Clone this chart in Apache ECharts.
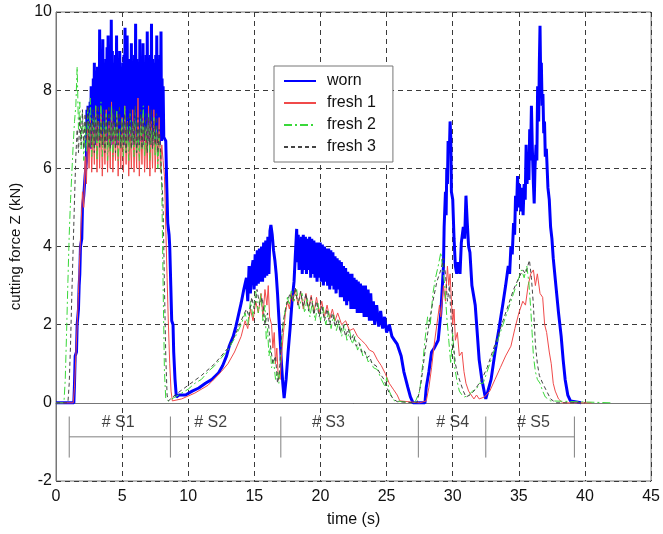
<!DOCTYPE html>
<html><head><meta charset="utf-8">
<script src="https://cdn.jsdelivr.net/npm/echarts@6/dist/echarts.min.js"></script>
<style>html,body{margin:0;padding:0;background:#fff}#c{width:663px;height:534px}</style>
</head><body><div id="c"></div>
<script>
// ---- data (time s, force kN) ----
var seriesNames = ['worn', 'fresh 1', 'fresh 2', 'fresh 3'];
var xTicks = [0, 5, 10, 15, 20, 25, 30, 35, 40, 45];
var yTicks = [-2, 0, 2, 4, 6, 8, 10];

var worn = [
[0,0],[1.35,0],[1.4,0.5],[1.45,1.2],[1.55,1.3],[1.6,2.0],[1.7,2.4],[1.75,3.0],[1.8,3.3],[1.85,4.0],[1.95,4.2],[2.0,5.0],[2.1,5.3],[2.2,5.8],
[2.30,6.2],[2.34,7.5],[2.38,6.4],[2.42,7.6],[2.46,6.5],[2.50,7.4],[2.54,6.6],[2.58,7.7],[2.62,6.5],[2.66,8.1],[2.70,6.7],[2.74,7.9],[2.78,6.6],[2.82,8.3],[2.86,6.8],[2.90,8.7],[2.94,6.6],[2.98,8.4],
[3.02,6.9],[3.06,8.5],[3.10,6.7],[3.14,8.6],[3.18,6.8],[3.22,8.4],[3.26,6.9],[3.30,9.55],[3.34,6.7],[3.38,8.9],[3.42,6.8],[3.46,8.6],[3.50,7.0],[3.54,9.3],[3.58,6.6],[3.62,8.7],[3.66,6.9],[3.70,8.5],[3.74,6.7],[3.78,8.8],[3.82,7.0],[3.86,9.1],[3.90,6.8],[3.94,9.4],[3.98,6.6],
[4.02,8.7],[4.06,6.9],[4.10,8.9],[4.14,6.7],[4.18,9.8],[4.22,6.9],[4.26,9.0],[4.30,6.6],[4.34,8.7],[4.38,7.0],[4.42,8.6],[4.46,6.7],[4.50,8.9],[4.54,6.8],[4.58,9.4],[4.62,6.6],[4.66,8.8],[4.70,6.9],[4.74,8.5],[4.78,6.7],[4.82,9.0],[4.86,6.9],[4.90,8.6],[4.94,6.6],[4.98,8.4],
[5.02,6.8],[5.06,8.7],[5.10,6.7],[5.14,8.9],[5.18,6.9],[5.22,9.6],[5.26,6.6],[5.30,8.8],[5.34,6.9],[5.38,9.4],[5.42,6.7],[5.46,8.6],[5.50,6.9],[5.54,8.8],[5.58,6.6],[5.62,8.5],[5.66,6.8],[5.70,9.2],[5.74,6.7],[5.78,8.7],[5.82,6.9],[5.86,8.6],[5.90,6.6],[5.94,8.9],[5.98,6.9],
[6.02,9.7],[6.06,6.7],[6.10,8.8],[6.14,6.8],[6.18,8.5],[6.22,6.6],[6.26,8.7],[6.30,6.9],[6.34,9.3],[6.38,6.7],[6.42,8.6],[6.46,6.8],[6.50,8.8],[6.54,6.6],[6.58,9.2],[6.62,6.9],[6.66,8.7],[6.70,6.7],[6.74,8.5],[6.78,6.8],[6.82,8.9],[6.86,6.6],[6.90,9.5],[6.94,6.9],[6.98,8.7],
[7.02,6.7],[7.06,8.6],[7.10,6.8],[7.14,8.9],[7.18,6.6],[7.22,9.7],[7.26,6.9],[7.30,8.8],[7.34,6.7],[7.38,8.6],[7.42,6.8],[7.46,8.7],[7.50,6.6],[7.54,8.9],[7.58,6.9],[7.62,9.4],[7.66,6.7],[7.70,8.6],[7.74,6.8],[7.78,8.8],[7.82,6.6],[7.86,8.9],[7.90,6.9],[7.94,9.5],[7.98,6.7],
[8.02,8.3],[8.06,6.8],[8.10,8.1],[8.15,6.8],[8.3,6.7],[8.38,5.5],[8.45,4.6],[8.55,4.3],[8.6,4.0],[8.68,3.0],[8.75,2.1],[8.85,2.0],[8.9,1.3],[9.0,0.6],[9.1,0.15],
[9.3,0.2],[9.8,0.2],[10.3,0.3],[10.8,0.38],[11.3,0.5],[11.8,0.6],[12.3,0.77],[12.6,0.95],[12.9,1.2],[13.1,1.45],[13.4,1.7],[13.6,1.95],[13.8,2.25],[14.0,2.55],[14.2,2.9],[14.4,3.2],[14.5,2.6],[14.6,3.5],[14.7,2.8],[14.8,3.4],[14.9,3.65],[14.98,2.9],[15.06,3.8],[15.14,3.0],[15.22,3.9],[15.3,3.05],[15.38,3.95],[15.46,3.1],[15.54,4.0],[15.62,3.1],[15.7,4.1],[15.78,3.2],[15.86,4.15],[15.94,3.25],[16.02,4.25],[16.1,3.3],[16.18,4.4],[16.25,4.55],[16.35,4.3],[16.45,3.9],[16.55,3.65],[16.65,3.3],[16.75,2.8],[16.85,2.2],[16.95,1.6],[17.05,1.0],[17.15,0.5],[17.25,0.12],
[17.4,0.6],[17.55,1.3],[17.7,1.9],[17.85,2.6],[18.0,3.1],[18.1,3.8],[18.2,4.45],[18.26,3.6],[18.32,4.3],[18.38,3.4],[18.44,4.2],[18.5,3.5],[18.56,4.25],[18.62,3.3],[18.7,4.3],[18.78,3.4],[18.86,4.25],[18.94,3.3],[19.02,4.2],[19.1,3.4],[19.18,4.25],[19.26,3.2],[19.34,4.2],[19.42,3.3],[19.5,4.15],[19.58,3.2],[19.66,4.1],[19.74,3.1],[19.82,4.1],[19.9,3.2],[19.98,4.1],[20.06,3.1],[20.14,4.05],[20.22,3.0],[20.3,4.0],[20.38,3.1],[20.46,3.95],[20.54,3.0],[20.62,3.95],[20.7,2.9],[20.78,3.9],[20.86,3.0],[20.94,3.85],[21.02,2.9],[21.1,3.75],[21.18,2.8],[21.26,3.7],[21.34,2.9],[21.42,3.65],[21.5,2.7],[21.58,3.6],[21.66,2.7],[21.74,3.5],[21.82,2.6],[21.9,3.45],[21.98,2.5],[22.06,3.35],[22.14,2.6],[22.22,3.3],[22.3,2.4],[22.38,3.3],[22.46,2.4],[22.54,3.2],[22.62,2.4],[22.7,3.15],[22.78,2.3],[22.86,3.1],[22.94,2.3],[23.02,3.05],[23.1,2.3],[23.2,3.0],[23.3,2.2],[23.4,3.0],[23.5,2.2],[23.6,2.9],[23.7,2.1],[23.8,2.8],[23.9,2.1],[24.0,2.6],[24.1,2.0],[24.25,2.5],[24.4,1.95],[24.55,2.35],[24.7,1.9],[24.85,2.2],[25.0,1.8],[25.2,2.0],[25.4,1.7],[25.6,1.6],[25.8,1.5],[26.1,1.2],[26.3,0.8],[26.6,0.4],[26.8,0.15],[27.0,0],
[27.9,0],[28.0,0.4],[28.2,0.8],[28.4,1.3],[28.6,1.4],[28.9,1.6],[29.1,2.3],[29.3,3.5],[29.35,4.5],[29.45,5.4],[29.5,4.8],[29.55,6.0],[29.6,5.6],[29.65,6.7],[29.75,6.5],[29.8,7.2],[29.85,6.8],[29.9,5.4],[30.0,5.2],[30.1,4.2],[30.2,3.5],[30.3,3.3],[30.4,3.6],[30.55,3.3],[30.65,4.1],[30.8,4.5],[30.9,4.2],[31.0,5.3],[31.1,4.6],[31.2,4.0],[31.3,3.85],[31.45,3.0],[31.6,2.7],[31.7,2.5],[31.85,1.8],[32.0,1.1],[32.2,0.6],[32.4,0.25],[32.5,0.1],
[32.6,0.15],[32.9,0.6],[33.2,1.3],[33.5,1.9],[33.8,2.55],[34.0,3.0],[34.2,3.5],[34.3,3.3],[34.4,4.0],[34.5,3.8],[34.6,4.6],[34.68,4.3],[34.75,5.3],[34.82,4.9],[34.9,5.8],[34.98,5.0],[35.05,5.6],[35.15,4.9],[35.25,5.5],[35.32,4.8],[35.4,5.6],[35.48,5.2],[35.55,6.6],[35.62,5.6],[35.7,6.4],[35.76,5.7],[35.82,7.0],[35.88,6.2],[35.95,7.6],[36.02,6.5],[36.1,5.6],[36.16,5.1],[36.22,6.0],[36.3,6.6],[36.36,6.2],[36.42,8.1],[36.5,7.2],[36.55,8.7],[36.6,9.65],[36.65,8.3],[36.7,8.7],[36.76,7.6],[36.82,7.9],[36.88,6.9],[36.94,7.2],[37.0,6.3],[37.08,6.5],[37.2,5.5],[37.3,5.2],[37.4,4.5],[37.5,4.2],[37.6,3.7],[37.8,3.0],[38.0,2.3],[38.2,1.7],[38.35,1.1],[38.5,0.6],[38.7,0.2],[38.9,0.05],[39.7,0]
];

var fresh1 = [
[0,0],[1.3,0],[1.4,0.4],[1.5,1.2],[1.6,2.0],[1.7,2.8],[1.8,3.8],[1.9,4.6],[2.0,5.4],[2.1,5.0],
[2.2,6.3],[2.3,5.6],[2.4,7.0],[2.5,6.0],[2.6,7.3],[2.7,5.9],[2.8,7.1],[2.9,6.1],[3.0,7.6],[3.1,5.9],[3.2,7.2],[3.3,6.0],[3.4,7.4],[3.5,5.8],[3.6,7.0],[3.7,6.1],[3.8,7.5],[3.9,5.9],[4.0,7.2],[4.1,6.0],[4.2,7.7],[4.3,5.9],[4.4,7.1],[4.5,6.2],[4.6,7.4],[4.7,5.8],[4.8,7.0],[4.9,6.0],[5.0,7.3],[5.1,5.9],[5.2,7.6],[5.3,6.1],[5.4,7.2],[5.5,5.8],[5.6,7.0],[5.7,6.0],[5.8,7.5],[5.9,5.9],[6.0,7.1],[6.1,6.0],[6.2,7.8],[6.3,5.8],[6.4,7.2],[6.5,6.1],[6.6,7.4],[6.7,5.9],[6.8,7.0],[6.9,6.0],[7.0,7.6],[7.1,5.8],[7.2,7.2],[7.3,6.0],[7.4,7.5],[7.5,5.9],[7.6,7.0],[7.7,6.1],[7.8,7.3],[7.9,5.9],[8.0,6.6],[8.1,6.2],
[8.2,5.8],[8.3,4.5],[8.4,3.2],[8.5,2.0],[8.6,1.0],[8.7,0.3],[8.8,0.05],
[9.5,0.1],[10.5,0.25],[11.5,0.45],[12.5,0.8],[13.0,1.0],[13.5,1.3],[14.0,1.7],[14.3,2.1],[14.5,1.9],[14.7,2.4],[14.9,2.1],[15.1,2.6],[15.3,2.3],[15.5,2.8],[15.65,2.2],[15.8,2.9],[15.95,2.5],[16.05,3.0],[16.15,2.2],[16.3,2.0],[16.4,1.4],[16.5,1.8],[16.6,1.0],[16.7,1.4],[16.8,0.7],[16.95,0.6],[17.05,1.2],[17.2,1.8],[17.35,2.3],[17.5,2.6],[17.65,2.4],[17.8,2.8],
[17.9,2.6],[18.1,2.9],[18.3,2.5],[18.5,2.85],[18.7,2.4],[18.9,2.8],[19.1,2.4],[19.3,2.75],[19.5,2.3],[19.7,2.7],[19.9,2.3],[20.1,2.6],[20.3,2.2],[20.5,2.5],[20.7,2.15],[20.9,2.4],[21.1,2.1],[21.3,2.3],[21.6,2.0],[21.9,2.1],[22.2,1.85],[22.5,1.9],[22.8,1.7],[23.1,1.6],[23.4,1.5],[23.7,1.35],[24.0,1.3],[24.3,1.1],[24.6,0.95],[24.9,0.75],[25.2,0.5],[25.5,0.35],[25.8,0.2],[26.0,0.05],[27.5,0],
[28.0,0.05],[28.2,0.4],[28.4,0.9],[28.6,1.5],[28.8,2.0],[29.0,2.5],[29.1,2.2],[29.3,3.0],[29.45,2.6],[29.6,3.5],[29.7,3.0],[29.8,3.3],[29.9,2.6],[30.0,2.0],[30.1,2.4],[30.2,1.6],[30.35,1.8],[30.5,1.2],[30.7,1.3],[30.85,0.8],[31.0,0.5],[31.2,0.3],[31.4,0.2],[31.6,0.1],[31.8,0.2],[32.0,0.1],
[32.4,0.15],[32.8,0.3],[33.2,0.6],[33.6,0.9],[34.0,1.2],[34.4,1.45],[34.7,1.9],[35.0,2.3],[35.3,2.6],[35.5,2.5],[35.7,3.0],[35.9,3.3],[36.1,3.4],[36.25,3.0],[36.4,3.3],[36.6,2.8],[36.8,2.7],[36.95,2.0],[37.1,1.8],[37.3,1.3],[37.45,1.0],[37.6,0.5],[37.75,0.3],[38.0,0.1],[38.3,0],[40.5,0]
];

var fresh2 = [
[0,0],[0.6,0],[0.7,0.6],[0.8,1.8],[0.9,3.1],[1.0,4.3],[1.1,5.2],[1.2,5.9],[1.3,6.6],[1.4,7.2],[1.5,7.6],[1.6,8.6],
[1.7,7.0],[1.8,7.7],[1.9,6.5],[2.0,7.4],[2.1,6.2],[2.2,7.2],[2.3,6.4],[2.4,7.5],[2.5,6.6],[2.6,7.8],[2.7,6.3],[2.8,7.3],[2.9,6.5],[3.0,7.6],[3.1,6.2],[3.2,7.1],[3.3,6.6],[3.4,7.7],[3.5,6.3],[3.6,7.2],[3.7,6.5],[3.8,7.4],[3.9,6.2],[4.0,7.0],[4.1,6.4],[4.2,7.6],[4.3,6.3],[4.4,7.2],[4.5,6.6],[4.6,7.5],[4.7,6.2],[4.8,7.0],[4.9,6.5],[5.0,7.3],[5.1,6.3],[5.2,7.6],[5.3,6.4],[5.4,7.1],[5.5,6.2],[5.6,7.4],[5.7,6.5],[5.8,7.2],[5.9,6.3],[6.0,7.5],[6.1,6.4],[6.2,7.0],[6.3,6.2],[6.4,7.3],[6.5,6.5],[6.6,7.6],[6.7,6.3],[6.8,7.1],[6.9,6.4],[7.0,7.4],[7.1,6.2],[7.2,7.0],[7.3,6.5],[7.4,7.3],[7.5,6.3],[7.6,7.1],[7.7,6.0],[7.8,6.8],[7.9,6.4],
[8.0,5.5],[8.1,3.0],[8.2,0.8],[8.3,0.1],[8.5,0.05],
[9.0,0.15],[9.5,0.25],[10,0.35],[10.5,0.5],[11,0.6],[11.5,0.8],[12,0.95],[12.5,1.15],[13,1.35],[13.5,1.65],[14,2.0],[14.3,2.3],[14.5,2.0],[14.7,2.6],[14.9,2.2],[15.1,2.85],[15.3,2.3],[15.5,2.8],[15.65,2.1],[15.8,2.5],[15.9,1.6],[16.0,1.9],[16.1,1.2],[16.2,1.4],[16.3,0.9],[16.45,1.1],[16.6,0.6],[16.75,0.8],[16.85,0.5],[16.95,1.0],[17.05,1.6],[17.2,2.1],[17.35,2.4],[17.5,2.7],[17.65,2.5],[17.8,2.9],
[18.0,2.6],[18.2,2.9],[18.4,2.4],[18.6,2.8],[18.8,2.3],[19.0,2.7],[19.2,2.2],[19.4,2.6],[19.6,2.1],[19.8,2.55],[20.0,2.1],[20.2,2.45],[20.4,2.0],[20.6,2.35],[20.8,1.9],[21.0,2.25],[21.2,1.85],[21.4,2.1],[21.6,1.7],[21.8,2.0],[22.0,1.6],[22.2,1.85],[22.4,1.5],[22.6,1.7],[22.8,1.35],[23.0,1.5],[23.2,1.2],[23.4,1.3],[23.6,1.05],[23.8,1.1],[24.0,0.9],[24.3,0.85],[24.6,0.6],[24.9,0.4],[25.0,0.65],[25.2,0.3],[25.4,0.15],[25.6,0.05],[27.0,0],
[27.2,0.05],[27.5,0.3],[27.7,0.9],[27.9,1.6],[28.1,2.2],[28.3,2.0],[28.5,2.8],[28.7,3.2],[28.9,3.5],[29.1,3.85],[29.25,3.4],[29.4,3.0],[29.55,2.2],[29.7,1.6],[29.85,1.0],[30.0,1.8],[30.15,0.9],[30.3,0.6],[30.5,0.3],[30.7,0.2],[30.9,0.15],[31.2,0.2],[31.5,0.3],[31.8,0.35],[32.0,0.5],
[32.3,0.5],[32.6,0.8],[33.0,1.2],[33.4,1.6],[33.8,2.0],[34.2,2.4],[34.6,2.8],[34.9,3.1],[35.2,3.4],[35.4,3.2],[35.6,3.5],[35.75,3.1],[35.9,2.4],[36.0,1.8],[36.1,1.2],[36.25,0.8],[36.4,0.6],[36.6,0.5],[36.8,0.3],[37.0,0.15],[37.4,0.05],[42,0]
];

var fresh3 = [
[0,0],[0.9,0],[1.0,0.5],[1.1,1.5],[1.2,2.8],[1.3,4.0],[1.4,5.2],[1.5,6.3],[1.6,7.0],
[1.7,6.4],[1.8,7.3],[1.9,6.6],[2.0,7.5],[2.1,6.5],[2.2,7.4],[2.3,6.7],[2.4,7.6],[2.5,6.5],[2.6,7.2],[2.7,6.6],[2.8,7.5],[2.9,6.4],[3.0,7.3],[3.1,6.7],[3.2,7.6],[3.3,6.5],[3.4,7.2],[3.5,6.6],[3.6,7.5],[3.7,6.4],[3.8,7.3],[3.9,6.6],[4.0,7.6],[4.1,6.5],[4.2,7.2],[4.3,6.7],[4.4,7.5],[4.5,6.4],[4.6,7.3],[4.7,6.6],[4.8,7.6],[4.9,6.5],[5.0,7.2],[5.1,6.6],[5.2,7.4],[5.3,6.4],[5.4,7.3],[5.5,6.7],[5.6,7.5],[5.7,6.5],[5.8,7.2],[5.9,6.6],[6.0,7.6],[6.1,6.4],[6.2,7.3],[6.3,6.6],[6.4,7.5],[6.5,6.5],[6.6,7.2],[6.7,6.7],[6.8,7.4],[6.9,6.4],[7.0,7.3],[7.1,6.6],[7.2,7.5],[7.3,6.5],[7.4,7.2],[7.5,6.6],[7.6,7.4],[7.7,6.4],[7.8,7.0],[7.9,6.5],[8.0,6.5],
[8.1,5.0],[8.2,3.0],[8.3,1.2],[8.4,0.2],[8.5,0.05],
[9,0.2],[10,0.45],[11,0.7],[12,1.0],[13,1.4],[13.5,1.7],[14,2.1],[14.4,2.4],[14.6,2.2],[14.8,2.7],[15.0,2.4],[15.2,2.9],[15.4,2.5],[15.6,2.7],[15.8,2.0],[16.0,2.3],[16.2,1.5],[16.4,1.0],[16.6,1.2],[16.75,0.5],[16.9,0.8],[17.0,1.4],[17.15,2.0],[17.3,2.3],[17.5,2.6],[17.7,2.8],
[17.9,2.6],[18.1,2.95],[18.3,2.5],[18.5,2.85],[18.7,2.45],[18.9,2.8],[19.1,2.35],[19.3,2.7],[19.5,2.25],[19.7,2.6],[19.9,2.2],[20.1,2.5],[20.3,2.1],[20.5,2.4],[20.7,2.0],[20.9,2.3],[21.1,1.95],[21.3,2.15],[21.5,1.8],[21.7,2.0],[21.9,1.7],[22.1,1.9],[22.3,1.6],[22.5,1.75],[22.7,1.45],[22.9,1.55],[23.1,1.3],[23.3,1.35],[23.5,1.15],[23.7,1.2],[23.9,1.0],[24.2,0.95],[24.5,0.75],[24.8,0.6],[25.0,0.4],[25.2,0.25],[25.5,0.1],[25.8,0.03],[27.3,0],
[27.6,0.5],[27.9,1.3],[28.2,2.0],[28.5,2.6],[28.8,3.1],[29.1,3.4],[29.3,3.7],[29.45,3.3],[29.6,2.6],[29.75,3.0],[29.9,2.0],[30.05,1.5],[30.2,1.0],[30.4,0.7],[30.6,0.5],[30.8,0.3],[31.0,0.15],[31.3,0.2],[31.6,0.3],[31.9,0.45],
[32.2,0.6],[32.6,0.9],[33.0,1.3],[33.4,1.7],[33.8,2.1],[34.2,2.5],[34.6,2.9],[35.0,3.2],[35.3,3.4],[35.5,3.3],[35.8,3.65],[35.95,3.2],[36.1,2.5],[36.25,1.5],[36.4,1.0],[36.55,0.7],[36.8,0.5],[37.1,0.3],[37.4,0.1],[37.8,0],[40,0]
];

// segment annotation
var segBounds = [1.0, 8.65, 17.0, 27.4, 32.5, 39.2];
var segLabels = ['# S1', '# S2', '# S3', '# S4', '# S5'];
var segLabelX = [4.7, 11.7, 20.6, 30.0, 36.1];
var segBarY = -0.87;
var segTickTop = -0.35, segTickBottom = -1.4;
var segLabelY = -0.5;

var chart = echarts.init(document.getElementById('c'), null, {renderer: 'canvas'});
var FONT = 'Liberation Sans, Arial, sans-serif';
var gridLine = {show: true, lineStyle: {color: '#3a3a3a', type: [5, 4], width: 1}};

var tickData = segBounds.map(function (x) { return [x, segTickTop, segTickBottom]; });
var labelData = segLabelX.map(function (x, i) { return {value: [x, segLabelY], name: segLabels[i]}; });

chart.setOption({
  animation: false,
  backgroundColor: '#fff',
  grid: {left: 56, right: 9, top: 12, bottom: 53, show: true, borderColor: '#777', borderWidth: 1},
  legend: {
    data: seriesNames,
    orient: 'vertical', left: 274, top: 66,
    backgroundColor: '#fff', borderColor: '#777', borderWidth: 1,
    padding: [7, 17, 7, 9], itemWidth: 32, itemHeight: 14, itemGap: 6,
    itemStyle: {opacity: 0},
    textStyle: {fontFamily: FONT, fontSize: 16, color: '#111', padding: [0, 0, 0, 6]}
  },
  xAxis: {
    type: 'value', min: 0, max: 45, interval: 5,
    name: 'time (s)', nameLocation: 'middle', nameGap: 31,
    nameTextStyle: {fontFamily: FONT, fontSize: 16, color: '#111'},
    axisLine: {show: true, lineStyle: {color: '#777'}},
    axisTick: {show: false},
    axisLabel: {fontFamily: FONT, fontSize: 16, color: '#111', margin: 8},
    splitLine: gridLine
  },
  yAxis: {
    type: 'value', min: -2, max: 10, interval: 2,
    name: 'cutting force Z (kN)', nameLocation: 'middle', nameGap: 28,
    nameTextStyle: {fontFamily: FONT, fontSize: 15, color: '#111'},
    axisLine: {show: true, lineStyle: {color: '#777'}},
    axisTick: {show: false},
    axisLabel: {fontFamily: FONT, fontSize: 16, color: '#111', margin: 4},
    splitLine: gridLine
  },
  series: [
    {name: 'worn', type: 'line', data: worn, showSymbol: false, symbol: 'none', z: 2,
     lineStyle: {color: '#0000ff', width: 3, join: 'bevel'}, itemStyle: {color: '#0000ff'}},
    {name: 'fresh 1', type: 'line', data: fresh1, showSymbol: false, symbol: 'none', z: 3,
     lineStyle: {color: '#f04a4a', width: 1}, itemStyle: {color: '#f04a4a'}},
    {name: 'fresh 2', type: 'line', data: fresh2, showSymbol: false, symbol: 'none', z: 4,
     lineStyle: {color: '#3ad83a', width: 1, type: [8, 3, 2, 3]}, itemStyle: {color: '#3ad83a'}},
    {name: 'fresh 3', type: 'line', data: fresh3, showSymbol: false, symbol: 'none', z: 5,
     lineStyle: {color: '#444', width: 1, type: [4, 3]}, itemStyle: {color: '#444'}},
    {type: 'line', data: [[segBounds[0], segBarY], [segBounds[segBounds.length - 1], segBarY]],
     showSymbol: false, symbol: 'none', silent: true, lineStyle: {color: '#808080', width: 1}},
    {type: 'custom', silent: true, data: tickData,
     renderItem: function (params, api) {
       var p1 = api.coord([api.value(0), api.value(1)]);
       var p2 = api.coord([api.value(0), api.value(2)]);
       return {type: 'line', shape: {x1: p1[0], y1: p1[1], x2: p2[0], y2: p2[1]},
               style: {stroke: '#808080', lineWidth: 1}};
     }},
    {type: 'scatter', silent: true, symbolSize: 0, data: labelData,
     label: {show: true, position: 'inside', formatter: '{b}', fontFamily: FONT, fontSize: 16, color: '#111'}}
  ]
});
</script></body></html>
